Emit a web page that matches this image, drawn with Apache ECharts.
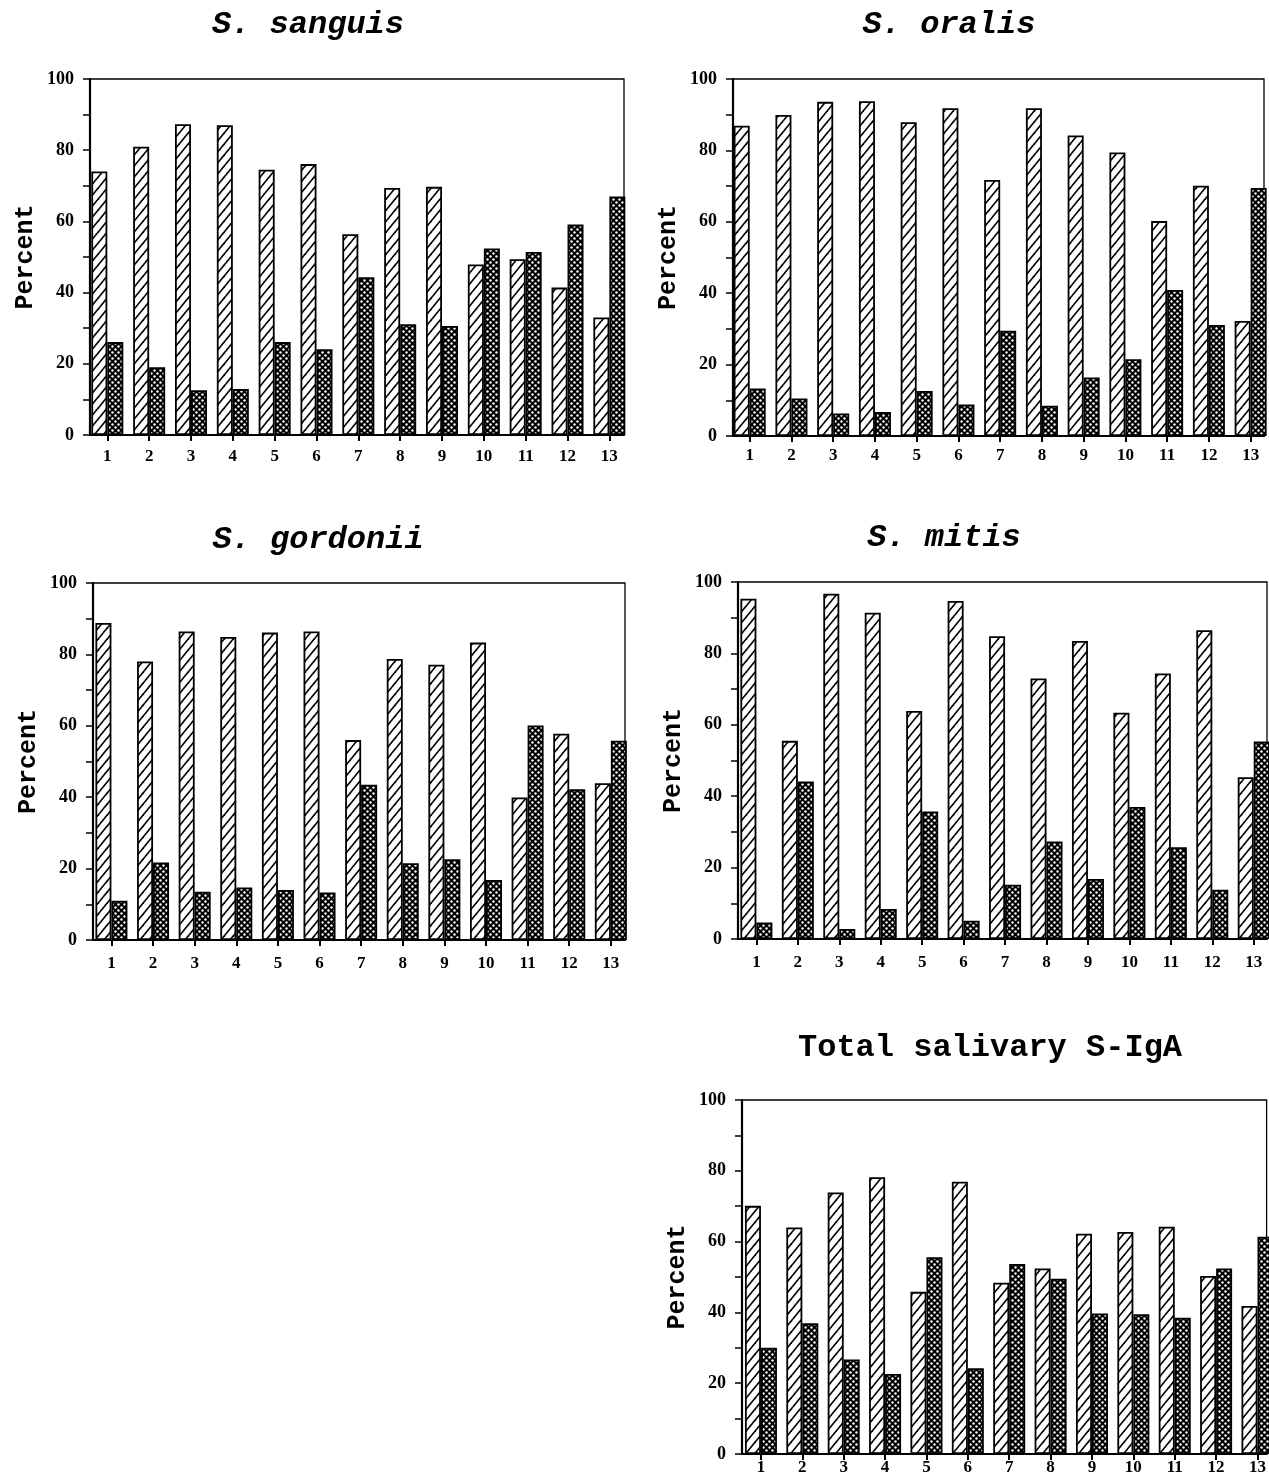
<!DOCTYPE html>
<html><head><meta charset="utf-8">
<script src="https://cdn.jsdelivr.net/npm/echarts@6/dist/echarts.min.js"></script>
<style>html,body{margin:0;padding:0;background:#fff}#c{width:1269px;height:1483px}</style>
</head><body><div id="c"></div>
<script>
// ---- data ----
const categories = [1,2,3,4,5,6,7,8,9,10,11,12,13];
const yTickLabels = [0,20,40,60,80,100];
const titles = ['S. sanguis', 'S. oralis', 'S. gordonii', 'S. mitis', 'Total salivary S-IgA'];

const sanguisHatched = [74, 81, 87.3, 87, 74.5, 76.1, 56.4, 69.4, 69.7, 47.9, 49.4, 41.4, 33];
const sanguisDotted  = [26.1, 19, 12.6, 12.9, 26.1, 24.1, 44.3, 31.1, 30.6, 52.4, 51.4, 59.1, 67];

const oralisHatched = [86.9, 89.9, 93.6, 93.8, 87.9, 91.8, 71.7, 91.8, 84.2, 79.4, 60.2, 70.1, 32.2];
const oralisDotted  = [13.3, 10.5, 6.3, 6.7, 12.6, 8.8, 29.5, 8.5, 16.4, 21.5, 40.9, 31.1, 69.5];

const gordoniiHatched = [88.8, 78, 86.4, 84.9, 86.1, 86.4, 56, 78.7, 77.1, 83.3, 39.9, 57.8, 43.9];
const gordoniiDotted  = [11, 21.7, 13.5, 14.7, 14, 13.3, 43.5, 21.5, 22.6, 16.8, 60.1, 42.2, 55.8];

const mitisHatched = [95.3, 55.5, 96.7, 91.4, 63.9, 94.7, 84.8, 73, 83.5, 63.4, 74.4, 86.5, 45.3];
const mitisDotted  = [4.6, 44.1, 2.8, 8.4, 35.7, 5.1, 15.2, 27.3, 16.8, 37, 25.7, 13.8, 55.3];

const totalHatched = [70.1, 64, 73.9, 78.2, 45.8, 76.9, 48.4, 52.4, 62.2, 62.7, 64.2, 50.3, 41.8];
const totalDotted  = [30, 36.9, 26.7, 22.6, 55.6, 24.2, 53.7, 49.5, 39.7, 39.5, 38.5, 52.4, 61.4];

const hatchedSets = [sanguisHatched, oralisHatched, gordoniiHatched, mitisHatched, totalHatched];
const dottedSets  = [sanguisDotted, oralisDotted, gordoniiDotted, mitisDotted, totalDotted];

// ---- layout ----
const panels = [
  {left: 90,  top: 79,   width: 534, height: 356, xmin: 0.586, xmax: 13.35, labelMargin: 13, tx: 308, ty: 25},
  {left: 733, top: 79,   width: 531, height: 357, xmin: 0.6,   xmax: 13.32, labelMargin: 11, tx: 949, ty: 25},
  {left: 93,  top: 583,  width: 532, height: 357, xmin: 0.557, xmax: 13.34, labelMargin: 15, tx: 318, ty: 540},
  {left: 738, top: 582,  width: 529, height: 357, xmin: 0.556, xmax: 13.32, labelMargin: 15, tx: 944, ty: 538},
  {left: 742, top: 1100, width: 525, height: 354, xmin: 0.542, xmax: 13.22, labelMargin: 5,  tx: 990, ty: 1048}
];

function hatchCanvas() {
  const w = 9, h = 11;
  const c = document.createElement('canvas');
  c.width = w; c.height = h;
  const g = c.getContext('2d');
  g.fillStyle = '#fff'; g.fillRect(0, 0, w, h);
  g.strokeStyle = '#000'; g.lineWidth = 1.6;
  for (const dx of [-w, 0, w]) {
    g.beginPath(); g.moveTo(dx - 1, h + h / w); g.lineTo(dx + w + 1, -h / w); g.stroke();
  }
  return c;
}
function dotCanvas() {
  const c = document.createElement('canvas');
  c.width = 6; c.height = 6;
  const g = c.getContext('2d');
  g.fillStyle = '#000'; g.fillRect(0, 0, 6, 6);
  g.fillStyle = '#fff';
  for (const p of [[1.5, 1.5], [4.5, 4.5]]) {
    g.beginPath(); g.arc(p[0], p[1], 1.2, 0, Math.PI * 2); g.fill();
  }
  return c;
}
const hatchPattern = {image: hatchCanvas(), repeat: 'repeat'};
const dotPattern = {image: dotCanvas(), repeat: 'repeat'};

const grid = [], xAxis = [], yAxis = [], series = [], graphic = [];
panels.forEach((p, i) => {
  grid.push({left: p.left, top: p.top, width: p.width, height: p.height, show: true,
    borderColor: '#000', borderWidth: 1.3, backgroundColor: 'transparent'});
  xAxis.push({
    type: 'value', gridIndex: i, min: p.xmin, max: p.xmax,
    axisLine: {show: true, onZero: false, lineStyle: {color: '#000', width: 2.2}},
    axisTick: {show: true, customValues: categories, length: 6, lineStyle: {color: '#000', width: 2}},
    axisLabel: {customValues: categories, margin: p.labelMargin, color: '#000',
      fontFamily: 'Liberation Serif', fontWeight: 'bold', fontSize: 17},
    splitLine: {show: false}
  });
  yAxis.push({
    type: 'value', gridIndex: i, min: 0, max: 100, interval: 10,
    name: 'Percent', nameLocation: 'middle', nameGap: 52,
    nameTextStyle: {fontFamily: 'Liberation Mono', fontWeight: 'bold', fontSize: 25, color: '#000'},
    axisLine: {show: true, lineStyle: {color: '#000', width: 2.2}},
    axisTick: {show: true, length: 7, lineStyle: {color: '#000', width: 1.5}},
    axisLabel: {formatter: v => (yTickLabels.indexOf(v) >= 0 ? String(v) : ''), margin: 16,
      color: '#000', fontFamily: 'Liberation Serif', fontWeight: 'bold', fontSize: 18},
    splitLine: {show: false}
  });
  series.push({
    type: 'bar', xAxisIndex: i, yAxisIndex: i, barWidth: 16, barGap: '0%',
    data: categories.map((c, j) => [c, hatchedSets[i][j]]),
    itemStyle: {color: hatchPattern, borderColor: '#000', borderWidth: 1.8},
    silent: true
  });
  series.push({
    type: 'bar', xAxisIndex: i, yAxisIndex: i, barWidth: 16, barGap: '0%',
    data: categories.map((c, j) => [c, dottedSets[i][j]]),
    itemStyle: {color: dotPattern, borderColor: '#000', borderWidth: 1.8},
    silent: true
  });
  graphic.push({
    type: 'text', x: p.tx, y: p.ty, silent: true,
    style: {text: titles[i], fill: '#000',
      font: (i < 4 ? 'italic ' : '') + 'bold 32px "Liberation Mono"',
      textAlign: 'center', textVerticalAlign: 'middle'}
  });
});

const chart = echarts.init(document.getElementById('c'), null, {renderer: 'canvas'});
chart.setOption({
  backgroundColor: '#fff', animation: false,
  grid, xAxis, yAxis, series, graphic
});
</script></body></html>
